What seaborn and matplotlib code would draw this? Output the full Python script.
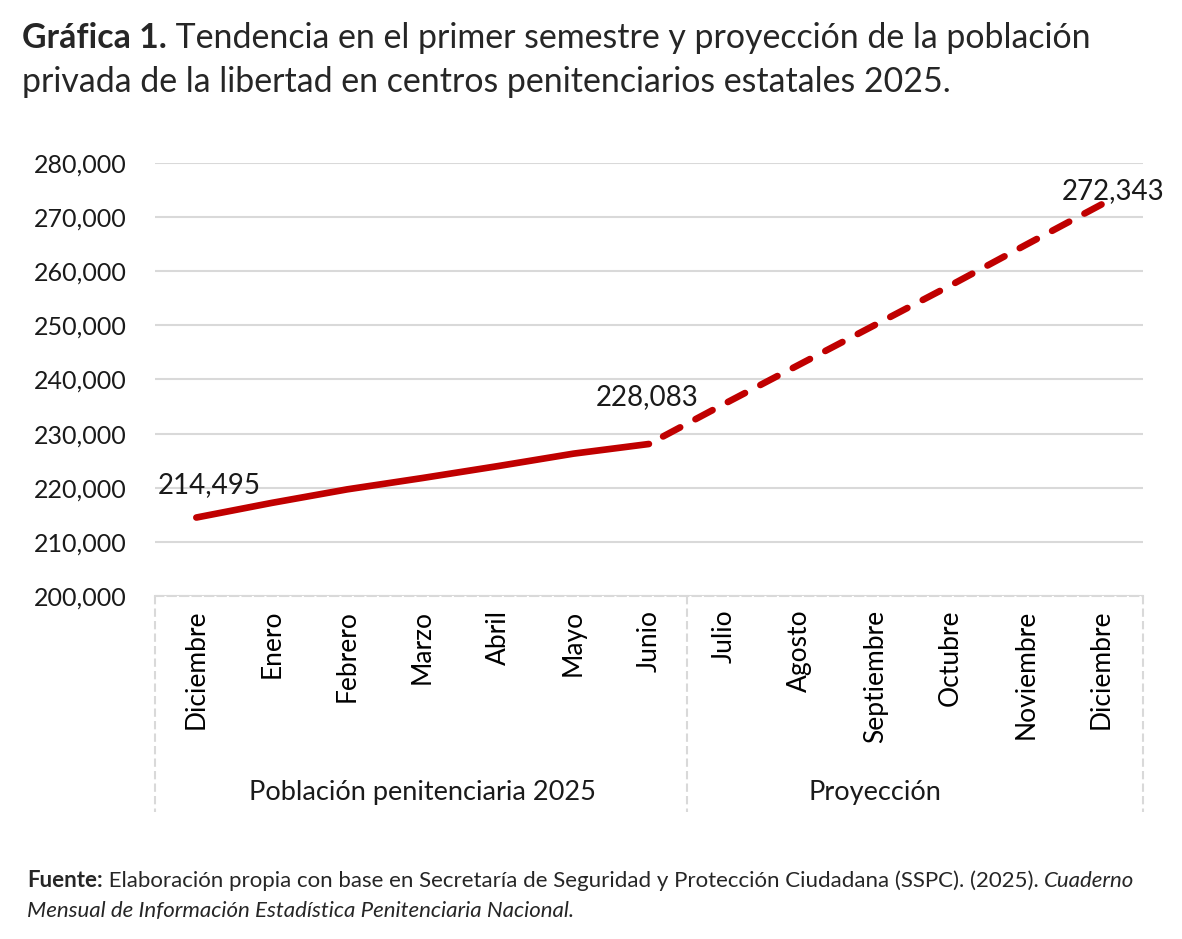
import numpy as np
import pandas as pd
import matplotlib
matplotlib.use("Agg")
import matplotlib.pyplot as plt
import matplotlib.transforms as mtransforms
from matplotlib.lines import Line2D
from matplotlib.ticker import FuncFormatter
import seaborn as sns

# data
meses = ["Diciembre", "Enero", "Febrero", "Marzo", "Abril", "Mayo", "Junio",
         "Julio", "Agosto", "Septiembre", "Octubre", "Noviembre", "Diciembre"]
poblacion_real = [214495, 217200, 219700, 221800, 224000, 226300, 228083]
proyeccion = [228083, 235500, 242800, 250100, 257400, 264900, 272343]
grupos = ["Población penitenciaria 2025", "Proyección"]
etiquetas = {0: "214,495", 6: "228,083", 12: "272,343"}

sns.set_style("white")
plt.rcParams["font.family"] = ["Lato", "DejaVu Sans"]

rojo = "#C00000"
gris = "#D9D9D9"
texto = "#1a1a1a"

df_real = pd.DataFrame({"x": np.arange(len(poblacion_real)), "y": poblacion_real})
df_proy = pd.DataFrame({"x": np.arange(len(poblacion_real) - 1, len(meses)), "y": proyeccion})
# draw the projection from its end so the dash pattern reaches the last point
df_proy = df_proy.iloc[::-1]

fig = plt.figure(figsize=(11.82, 9.39), dpi=100)
ax = fig.add_axes([0.131, 0.3653, 0.836, 0.4611])

sns.lineplot(data=df_real, x="x", y="y", ax=ax, color=rojo, linewidth=4.8,
             solid_capstyle="round", solid_joinstyle="round")
sns.lineplot(data=df_proy, x="x", y="y", ax=ax, color=rojo, linewidth=4.8,
             sort=False, linestyle=(0, (2.9, 2.6)), dash_capstyle="round")

ax.set_xlim(-0.55, len(meses) - 0.45)
ax.set_ylim(200000, 280000)
ax.set_yticks(np.arange(200000, 280001, 10000))
ax.yaxis.set_major_formatter(FuncFormatter(lambda v, p: f"{int(v):,}"))
ax.grid(axis="y", color=gris, linewidth=1.5)
ax.set_axisbelow(True)
ax.set_xlabel("")
ax.set_ylabel("")

ax.set_xticks(range(len(meses)))
ax.set_xticklabels(meses, rotation=90)
ax.tick_params(axis="x", length=0, pad=10, labelsize=19, colors="#000000")
ax.tick_params(axis="y", length=0, pad=20, labelsize=18, colors=texto)

for s in ["top", "right", "left"]:
    ax.spines[s].set_visible(False)
ax.spines["bottom"].set_color(gris)
ax.spines["bottom"].set_linestyle((0, (4, 2)))
ax.spines["bottom"].set_linewidth(1.5)

# multi-level category axis boxes
trans = mtransforms.blended_transform_factory(ax.transData, ax.transAxes)
n_real = len(poblacion_real)
for xb in [-0.55, n_real - 0.5, len(meses) - 0.45]:
    ax.add_line(Line2D([xb, xb], [0, -0.5], transform=trans, color=gris,
                       linewidth=1.5, linestyle=(0, (4, 2)), clip_on=False))
ax.text((n_real - 1) / 2, -0.453, grupos[0], transform=trans, ha="center",
        va="center", fontsize=19.5, color=texto)
ax.text((n_real - 1 + len(meses) - 1) / 2, -0.453, grupos[1], transform=trans,
        ha="center", va="center", fontsize=19.5, color=texto)

# data labels
ax.text(0.17, poblacion_real[0] + 6000, etiquetas[0], ha="center", va="center",
        fontsize=20, color=texto)
ax.text(5.97, poblacion_real[-1] + 8700, etiquetas[6], ha="center", va="center",
        fontsize=20, color=texto)
ax.text(12.15, proyeccion[-1] + 2500, etiquetas[12], ha="center", va="center",
        fontsize=20, color=texto, clip_on=False)

# title and source in mixed weights
fig.canvas.draw()
r = fig.canvas.get_renderer()
inv = fig.transFigure.inverted()

def partes(piezas, x0, y0, size):
    x = x0
    for txt, estilo in piezas:
        t = fig.text(x, y0, txt, fontsize=size, ha="left", va="baseline",
                     fontweight="bold" if estilo == "b" else "normal",
                     fontstyle="italic" if estilo == "i" else "normal")
        bb = t.get_window_extent(renderer=r)
        x = inv.transform((bb.x1, bb.y0))[0]

partes([("Gráfica 1.", "b"),
        (" Tendencia en el primer semestre y proyección de la población", "n")],
       22 / 1182, 1 - 48 / 939, 24.4)
partes([("privada de la libertad en centros penitenciarios estatales 2025.", "n")],
       22 / 1182, 1 - 92 / 939, 24.4)
partes([("Fuente:", "b"),
        (" Elaboración propia con base en Secretaría de Seguridad y Protección Ciudadana (SSPC). (2025). ", "n"),
        ("Cuaderno", "i")],
       27 / 1182, 1 - 887 / 939, 16)
partes([("Mensual de Información Estadística Penitenciaria Nacional.", "i")],
       27 / 1182, 1 - 917 / 939, 16)

fig.savefig("out.png", dpi=100)
